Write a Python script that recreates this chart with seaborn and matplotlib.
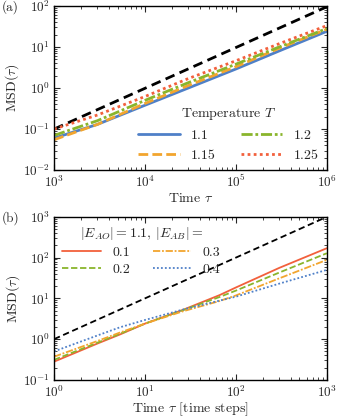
import numpy as np
import pandas as pd
import matplotlib
matplotlib.use("Agg")
import matplotlib.pyplot as plt
import seaborn as sns

# panel (a): MSD vs time for several temperatures
tau_a = [1e3, 3e3, 1e4, 3e4, 1e5, 3e5, 1e6]
msd_t110 = [0.060, 0.13, 0.38, 1.00, 2.9, 8.0, 24]
msd_t115 = [0.055, 0.13, 0.42, 1.15, 3.3, 9.3, 27]
msd_t120 = [0.070, 0.16, 0.50, 1.35, 3.8, 10.0, 28]
msd_t125 = [0.100, 0.22, 0.62, 1.70, 4.6, 12.0, 33]
ref_a_tau = [1e3, 1e6]
ref_a = [0.1, 95]
temps = ["1.1", "1.15", "1.2", "1.25"]

# panel (b): MSD vs time steps for several |E_AB|
tau_b = [1, 3, 5.3, 10, 26, 66, 100, 300, 1000]
msd_e01 = [0.28, 0.78, 1.30, 2.4, 5.2, 12.0, 18.5, 56, 170]
msd_e02 = [0.31, 0.82, 1.35, 2.4, 5.1, 10.8, 15.5, 43, 128]
msd_e03 = [0.37, 0.90, 1.45, 2.4, 4.8, 8.6, 11.8, 31, 88]
msd_e04 = [0.50, 1.23, 1.95, 2.95, 5.3, 8.8, 11, 23, 50]
ref_b_tau = [1, 1000]
ref_b = [1, 1000]
eab = ["0.1", "0.2", "0.3", "0.4"]

sns.set_style("ticks")
plt.rcParams.update({
    "font.family": "serif",
    "font.serif": ["cmr10"],
    "mathtext.fontset": "cm",
    "axes.formatter.use_mathtext": True,
    "font.size": 10,
    "xtick.direction": "in",
    "ytick.direction": "in",
    "xtick.top": True,
    "ytick.right": True,
    "xtick.minor.visible": True,
    "ytick.minor.visible": True,
    "axes.edgecolor": "black",
    "axes.linewidth": 1.0,
})

blue = "#4f80c8"
orange = "#f2a52e"
green = "#8ab52c"
red = "#f2603c"

fig = plt.figure(figsize=(3.38, 4.17), dpi=100)
ax1 = fig.add_axes([0.160, 0.592, 0.807, 0.394])
ax2 = fig.add_axes([0.160, 0.089, 0.807, 0.391])

# (a)
sns.lineplot(x=ref_a_tau, y=ref_a, ax=ax1, color="black", lw=2)
ax1.lines[-1].set_linestyle((0, (3.5, 2)))
styles_a = ["-", (0, (3.5, 1.5)), (0, (4, 1, 1, 1)), (0, (1, 1.2))]
cols_a = [blue, orange, green, red]
for vals, lab, ls, c in zip([msd_t110, msd_t115, msd_t120, msd_t125], temps, styles_a, cols_a):
    sns.lineplot(x=tau_a, y=vals, ax=ax1, color=c, lw=2, label=lab)
    ax1.lines[-1].set_linestyle(ls)
ax1.set_xscale("log")
ax1.set_yscale("log")
ax1.set_xlim(1e3, 1e6)
ax1.set_ylim(1e-2, 1e2)
ax1.set_xlabel(r"Time $\tau$", labelpad=1)
ax1.set_ylabel(r"MSD$(\tau)$", labelpad=1)
ax1.legend(title=r"Temperature $T$", ncol=2, frameon=False, loc="lower right",
           handlelength=3.0, columnspacing=1.8, fontsize=10, title_fontsize=10,
           borderaxespad=0.2, labelspacing=0.5)

# (b)
sns.lineplot(x=ref_b_tau, y=ref_b, ax=ax2, color="black", lw=1.3)
ax2.lines[-1].set_linestyle((0, (3.5, 2)))
styles_b = ["-", (0, (3.5, 1.5)), (0, (4, 1, 1, 1)), (0, (1, 1.2))]
cols_b = [red, green, orange, blue]
for vals, lab, ls, c in zip([msd_e01, msd_e02, msd_e03, msd_e04], eab, styles_b, cols_b):
    sns.lineplot(x=tau_b, y=vals, ax=ax2, color=c, lw=1.3, label=lab)
    ax2.lines[-1].set_linestyle(ls)
ax2.set_xscale("log")
ax2.set_yscale("log")
ax2.set_xlim(1, 1e3)
ax2.set_ylim(1e-1, 1e3)
ax2.set_xlabel(r"Time $\tau$ [time steps]", labelpad=1)
ax2.set_ylabel(r"MSD$(\tau)$", labelpad=1)
ax2.legend(title=r"$|E_{AO}| = 1.1$, $|E_{AB}| =$", ncol=2, frameon=False,
           loc="upper left", handlelength=2.8, columnspacing=1.6, fontsize=10,
           title_fontsize=10, borderaxespad=0.2, labelspacing=0.3)

for ax in (ax1, ax2):
    ax.tick_params(which="major", length=4, width=0.8, labelsize=9.5, pad=3)
    ax.tick_params(which="minor", length=2, width=0.6)

fig.text(0.005, 0.983, "(a)", fontsize=9.5, va="center")
fig.text(0.005, 0.478, "(b)", fontsize=9.5, va="center")

fig.savefig("out.png", dpi=100)
